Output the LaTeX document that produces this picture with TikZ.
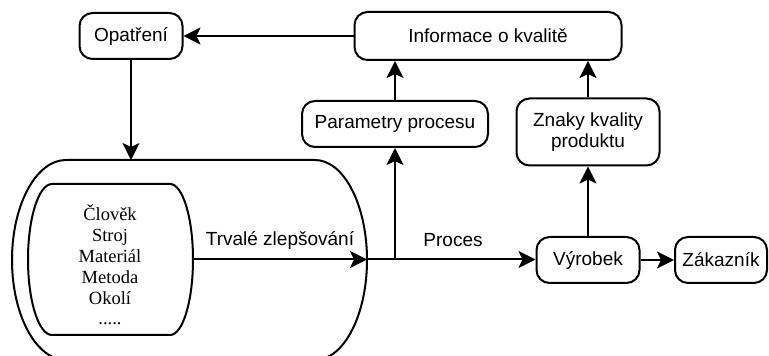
\documentclass[tikz,border=0pt]{standalone}
\usepackage{fontspec}
\usetikzlibrary{arrows.meta}
\setmainfont{Liberation Sans}
\newfontfamily\seriffont{Liberation Serif}

\tikzset{
	box/.style={draw, line width=2pt, rounded corners=13pt, minimum height=46pt, inner sep=2pt, align=center, font=\fontsize{19}{21}\selectfont},
	lbl/.style={font=\fontsize{19}{21}\selectfont},
	arr/.style={line width=2pt, -{Stealth[length=17pt,width=17pt,inset=4pt]}},
	ln/.style={line width=2pt}
}

\begin{document}
\begin{tikzpicture}[x=1pt,y=1pt]
		\useasboundingbox (0,0) rectangle (769,356);
		\clip (0,0) rectangle (769,356);
		\node[box, minimum width=103pt] (opatreni) at (131,320) {Opatření};
		\node[box, minimum width=267pt, minimum height=48pt] (info) at (488,320) {Informace o kvalitě};
		\node[box, minimum width=186pt] (param) at (395,232) {Parametry procesu};
		\node[box, minimum width=143pt, minimum height=67pt] (znaky) at (588,224) {Znaky kvality\\produktu};
		\node[box, minimum width=103pt] (vyrobek) at (588,96) {Výrobek};
		\node[box, minimum width=92pt] (zakaznik) at (721,96) {Zákazník};
		\draw[ln] (66,196) -- (315,196) arc[start angle=90, end angle=-90, x radius=52, y radius=100]
			-- (66,-4) arc[start angle=270, end angle=90, x radius=54, y radius=100] -- cycle;
		\draw[ln] (52,172) -- (170,172) arc[start angle=90, end angle=-90, x radius=23, y radius=75.5]
			-- (52,21) arc[start angle=270, end angle=90, x radius=24, y radius=75.5] -- cycle;
		\node[font=\seriffont\fontsize{18.5}{20.8}\selectfont, align=center] (faktory) at (110,91)
			{Člověk\\Stroj\\Materiál\\Metoda\\Okolí\\.....};
		\coordinate (vnitrni) at (193,96.5);
		\coordinate (vnejsi) at (367,96.5);
		\coordinate (horni) at (131,196);
		\coordinate (odbocka) at (395,96.5);
		\node[lbl] (trvale) at (280,116) {Trvalé zlepšování};
		\node[lbl] (proces) at (453,116) {Proces};
		\draw[arr] (info) -- (opatreni);
		\draw[arr] (opatreni) -- (horni);
		\draw[arr] (vnitrni) -- (vnejsi);
		\draw[arr] (vnejsi) -- (vyrobek.west |- vnejsi);
		\draw[arr] (odbocka) -- (param);
		\draw[arr] (param) -- (param |- info.south);
		\draw[arr] (vyrobek) -- (znaky);
		\draw[arr] (znaky) -- (znaky |- info.south);
		\draw[arr] (vyrobek) -- (zakaznik);
	\end{tikzpicture}
\end{document}
